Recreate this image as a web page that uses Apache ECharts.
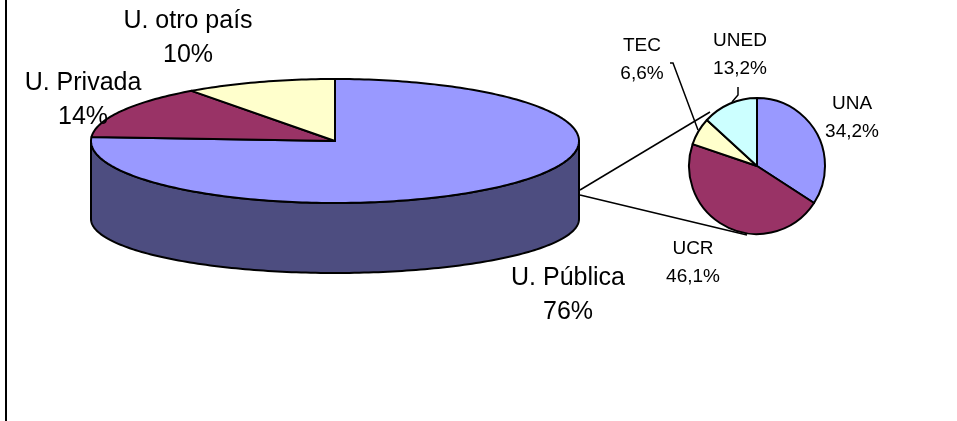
<!DOCTYPE html>
<html>
<head>
<meta charset="utf-8">
<script src="https://cdn.jsdelivr.net/npm/echarts@6/dist/echarts.min.js"></script>
<style>
  html, body { margin: 0; padding: 0; background: #fff; }
  #chart { width: 957px; height: 421px; }
</style>
</head>
<body>
<div id="chart"></div>
<script>
// tipo de universidad (pastel principal, 3D)
const tipos = ['U. Pública', 'U. Privada', 'U. otro país'];
const tiposPct = [76, 14, 10];
// desglose de U. Pública (pastel secundario)
const publicas = ['UNA', 'UCR', 'TEC', 'UNED'];
const publicasPct = [34.2, 46.1, 6.6, 13.2];

const colTipo = ['#9999ff', '#993366', '#ffffcc'];
const colPared = ['#4d4d80', '#4d1a33', '#808066'];
const colPub = ['#9999ff', '#993366', '#ffffcc', '#ccffff'];

// posiciones de etiquetas
const etqTipo = [[568, 295], [83, 100], [188, 38]];
const etqPub = [[852, 118], [693, 263], [642, 60], [740, 55]];
const lineaPub = [null, null, [[670, 63], [673, 63], [698, 130]], [[738, 87], [738, 95], [732, 102]]];

// geometria del pastel 3D (elipse superior e inferior)
const P = { cx: 335, cy: 141, rx: 244, ry: 62, cyb: 219, ryb: 54 };
const FONT = '"Liberation Sans", Arial, sans-serif';

const fmt = (v, dec) => v.toFixed(dec).replace('.', ',') + '%';

function arco(a0, a1, cy, ry) {
  const pts = [];
  const n = Math.max(2, Math.ceil((a1 - a0) / 0.02));
  for (let k = 0; k <= n; k++) {
    const a = a0 + (a1 - a0) * k / n;
    pts.push([P.cx + P.rx * Math.sin(a), cy - ry * Math.cos(a)]);
  }
  return pts;
}

const totalTipo = tiposPct.reduce((s, v) => s + v, 0);

function renderPie3d(params, api) {
  const i = params.dataIndex;
  let antes = 0;
  for (let k = 0; k < i; k++) antes += tiposPct[k];
  const a0 = antes / totalTipo * Math.PI * 2;
  const a1 = (antes + api.value(0)) / totalTipo * Math.PI * 2;
  const hijos = [];
  // pared frontal visible (media elipse de abajo)
  const w0 = Math.max(a0, Math.PI / 2), w1 = Math.min(a1, Math.PI * 1.5);
  if (w1 > w0) {
    hijos.push({
      type: 'polygon',
      shape: { points: arco(w0, w1, P.cy, P.ry).concat(arco(w0, w1, P.cyb, P.ryb).reverse()) },
      style: { fill: colPared[i], stroke: '#000', lineWidth: 2, lineJoin: 'round' }
    });
  }
  hijos.push({
    type: 'polygon',
    shape: { points: [[P.cx, P.cy]].concat(arco(a0, a1, P.cy, P.ry)) },
    style: { fill: colTipo[i], stroke: '#000', lineWidth: 2, lineJoin: 'round' }
  });
  hijos.push({
    type: 'text',
    x: etqTipo[i][0], y: etqTipo[i][1],
    style: {
      text: tipos[i] + '\n' + fmt(api.value(0), 0),
      fontFamily: FONT, fontSize: 25, lineHeight: 34, fill: '#000',
      align: 'center', verticalAlign: 'middle'
    }
  });
  return { type: 'group', children: hijos };
}

const chart = echarts.init(document.getElementById('chart'));
chart.setOption({
  animation: false,
  backgroundColor: '#fff',
  graphic: [
    { type: 'line', shape: { x1: 6, y1: 0, x2: 6, y2: 421 }, style: { stroke: '#000', lineWidth: 2 } },
    { type: 'line', shape: { x1: 580, y1: 190, x2: 710, y2: 112 }, style: { stroke: '#000', lineWidth: 1.5 } },
    { type: 'line', shape: { x1: 580, y1: 195, x2: 747, y2: 235 }, style: { stroke: '#000', lineWidth: 1.5 } }
  ],
  series: [
    {
      type: 'custom',
      coordinateSystem: 'none',
      silent: true,
      data: tiposPct.map(v => [v]),
      renderItem: renderPie3d
    },
    {
      type: 'pie',
      silent: true,
      center: [757, 166],
      radius: 68,
      startAngle: 90,
      clockwise: true,
      avoidLabelOverlap: false,
      data: publicas.map((n, i) => ({
        name: n,
        value: publicasPct[i],
        itemStyle: { color: colPub[i] },
        labelLine: { show: !!lineaPub[i] }
      })),
      itemStyle: { borderColor: '#000', borderWidth: 2 },
      label: {
        show: true,
        position: 'outside',
        formatter: p => p.name + '\n' + fmt(p.value, 1),
        fontFamily: FONT, fontSize: 19, lineHeight: 28, color: '#000'
      },
      labelLine: { lineStyle: { color: '#000', width: 1.5 } },
      labelLayout: p => ({
        x: etqPub[p.dataIndex][0],
        y: etqPub[p.dataIndex][1],
        align: 'center',
        verticalAlign: 'middle',
        labelLinePoints: lineaPub[p.dataIndex] || undefined
      })
    }
  ]
});
</script>
</body>
</html>
